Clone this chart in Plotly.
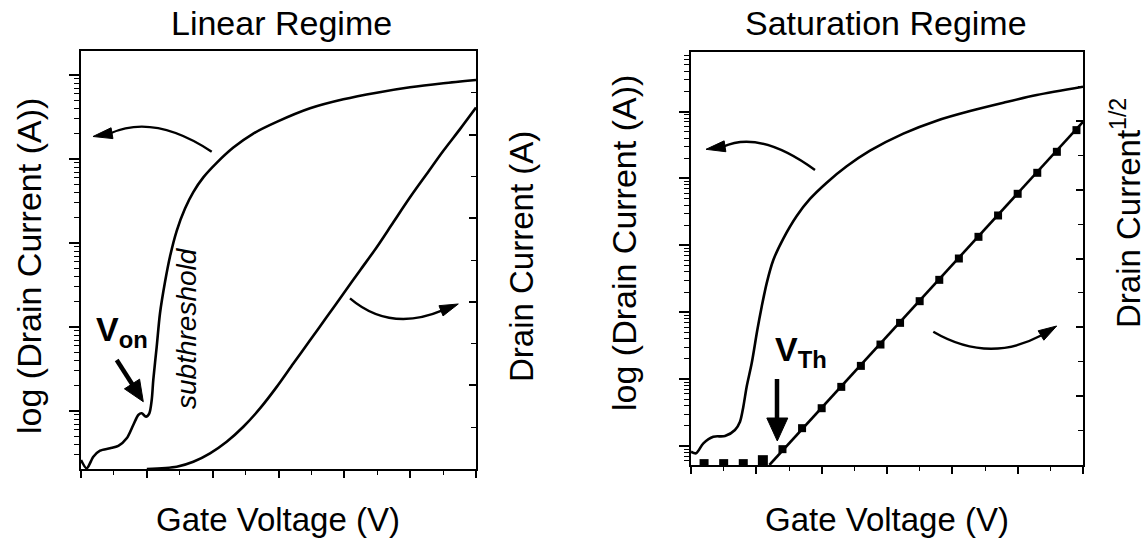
import numpy as np
import plotly.graph_objects as go

W, H = 1147, 543

# ---------------- data ----------------
# Linear regime, log10(drain current) vs gate voltage (left axis)
lin_vg_log = [0.0, 0.087, 0.187, 0.289, 0.441, 0.567, 0.694, 0.794, 0.870, 0.922,
              0.987, 1.038, 1.074, 1.098, 1.150, 1.200, 1.276, 1.352, 1.454, 1.580,
              1.706, 1.858, 2.061, 2.314, 2.617, 2.973, 3.479, 3.985, 4.492, 4.998,
              5.504, 6.0]
lin_log_id = [-11.583, -11.682, -11.544, -11.472, -11.444, -11.416, -11.325, -11.166,
              -11.047, -11.027, -11.067, -11.027, -10.869, -10.630, -10.234, -9.836,
              -9.464, -9.160, -8.854, -8.589, -8.394, -8.219, -8.046, -7.864, -7.697,
              -7.558, -7.396, -7.289, -7.210, -7.146, -7.098, -7.059]

# Linear regime, drain current (right axis, arbitrary units)
lin_vg = [1.0, 1.454, 1.706, 1.960, 2.213, 2.466, 2.719, 2.973, 3.225, 3.479,
          3.732, 3.985, 4.238, 4.492, 4.744, 4.998, 5.251, 5.504, 5.757, 6.0]
lin_id = [0.0, 0.055, 0.174, 0.375, 0.652, 1.010, 1.449, 1.964, 2.523, 3.079,
          3.635, 4.193, 4.749, 5.306, 5.902, 6.499, 7.057, 7.613, 8.131, 8.647]

# Saturation regime, log10(drain current) (left axis)
sat_vg_log = [0.0, 0.077, 0.189, 0.342, 0.520, 0.673, 0.750, 0.801, 0.852, 0.929,
              1.015, 1.082, 1.158, 1.260, 1.413, 1.618, 1.821, 2.077, 2.383, 2.740,
              3.250, 3.761, 4.271, 4.782, 5.292, 6.0]
sat_log_id = [-12.085, -12.109, -11.960, -11.861, -11.851, -11.761, -11.637, -11.413,
              -11.114, -10.764, -10.266, -9.918, -9.568, -9.220, -8.899, -8.561,
              -8.307, -8.064, -7.819, -7.585, -7.330, -7.137, -6.993, -6.869, -6.753,
              -6.629]

# Saturation regime, sqrt(drain current) measured points (right axis)
sat_vg_sqrt = [0.2, 0.5, 0.8, 1.1, 1.4, 1.7, 2.0, 2.3, 2.6, 2.9,
               3.2, 3.5, 3.8, 4.1, 4.4, 4.7, 5.0, 5.3, 5.6, 5.9]
sat_sqrt_id = [0.04, 0.04, 0.04, 0.14, 0.46, 1.07, 1.65, 2.27, 2.88, 3.50,
               4.13, 4.76, 5.38, 6.00, 6.63, 7.25, 7.88, 8.49, 9.10, 9.73]

# Linear fit used to extract V_Th
fit_vg = [1.2, 6.0]
fit_sqrt_id = [0.0, 9.97]

# axis tick specs
vg_major = [0, 1, 2, 3, 4, 5, 6]
vg_minor = [0.5, 1.5, 2.5, 3.5, 4.5, 5.5]
lin_log_decades = [-11, -10, -9, -8, -7]
sat_log_decades = [-12, -11, -10, -9, -8, -7]

# ---------------- figure ----------------
FONT = "Liberation Sans, Arial, Helvetica, sans-serif"
BLACK = "#000000"
LW = 2.6

fig = go.Figure()

fig.add_trace(go.Scatter(x=lin_vg_log, y=lin_log_id, mode="lines", xaxis="x", yaxis="y",
                         line=dict(color=BLACK, width=LW, shape="spline", smoothing=0.8),
                         showlegend=False, hoverinfo="skip"))
fig.add_trace(go.Scatter(x=lin_vg, y=lin_id, mode="lines", xaxis="x", yaxis="y2",
                         line=dict(color=BLACK, width=LW, shape="spline", smoothing=0.8),
                         showlegend=False, hoverinfo="skip"))
fig.add_trace(go.Scatter(x=sat_vg_log, y=sat_log_id, mode="lines", xaxis="x3", yaxis="y3",
                         line=dict(color=BLACK, width=LW, shape="spline", smoothing=0.8),
                         showlegend=False, hoverinfo="skip"))
fig.add_trace(go.Scatter(x=fit_vg, y=fit_sqrt_id, mode="lines", xaxis="x3", yaxis="y4",
                         line=dict(color=BLACK, width=LW),
                         showlegend=False, hoverinfo="skip"))
marker_sizes = [9, 9, 9, 10] + [8] * (len(sat_vg_sqrt) - 4)
fig.add_trace(go.Scatter(x=sat_vg_sqrt, y=sat_sqrt_id, mode="markers", xaxis="x3", yaxis="y4",
                         marker=dict(symbol="square", size=marker_sizes, color=BLACK,
                                     opacity=1, line=dict(width=0)),
                         showlegend=False, hoverinfo="skip"))


def minor_log(decades, lo, hi):
    vals = []
    for n in range(min(decades) - 2, max(decades) + 2):
        for k in range(2, 10):
            v = n + np.log10(k)
            if lo <= v <= hi:
                vals.append(float(v))
    return vals


def px_x(px):
    return px / W


def px_y(py):
    return 1 - py / H


common_x = dict(range=[0, 6], showline=True, linewidth=2, linecolor=BLACK, mirror=True,
                ticks="outside", tickmode="array", tickvals=vg_major, ticklen=7, tickwidth=1.6,
                tickcolor=BLACK, showticklabels=False, showgrid=False, zeroline=False,
                minor=dict(ticks="outside", ticklen=4, tickwidth=1.4, tickcolor=BLACK,
                           tickmode="array", tickvals=vg_minor, showgrid=False),
                fixedrange=True)

L_LO, L_HI = -11.69, -6.714
S_LO, S_HI = -12.284, -6.11

layout = dict(
    width=W, height=H, margin=dict(l=0, r=0, t=0, b=0),
    paper_bgcolor="white", plot_bgcolor="white",
    font=dict(family=FONT, color=BLACK),
    xaxis=dict(domain=[px_x(81), px_x(476)], anchor="y", **common_x),
    yaxis=dict(domain=[px_y(469), px_y(51)], anchor="x", range=[L_LO, L_HI],
               showline=True, linewidth=2, linecolor=BLACK, ticks="outside",
               tickmode="array", tickvals=lin_log_decades, ticklen=10, tickwidth=1.6,
               tickcolor=BLACK, showticklabels=False, showgrid=False, zeroline=False,
               minor=dict(ticks="outside", ticklen=5, tickwidth=1.3, tickcolor=BLACK,
                          tickmode="array", tickvals=minor_log(lin_log_decades, L_LO, L_HI),
                          showgrid=False)),
    yaxis2=dict(overlaying="y", side="right", anchor="x", range=[0, 10],
                showline=True, linewidth=2, linecolor=BLACK, ticks="inside",
                dtick=2, tick0=0, ticklen=7, tickwidth=1.6, tickcolor=BLACK,
                showticklabels=False, showgrid=False, zeroline=False,
                minor=dict(ticks="inside", ticklen=5, tickwidth=1.4, tickcolor=BLACK,
                           dtick=1, tick0=0, showgrid=False)),
    xaxis3=dict(domain=[px_x(691), px_x(1083)], anchor="y3", **common_x),
    yaxis3=dict(domain=[px_y(465), px_y(52)], anchor="x3", range=[S_LO, S_HI],
                showline=True, linewidth=2, linecolor=BLACK, ticks="outside",
                tickmode="array", tickvals=sat_log_decades, ticklen=10, tickwidth=1.6,
                tickcolor=BLACK, showticklabels=False, showgrid=False, zeroline=False,
                minor=dict(ticks="outside", ticklen=5, tickwidth=1.3, tickcolor=BLACK,
                           tickmode="array", tickvals=minor_log(sat_log_decades, S_LO, S_HI),
                           showgrid=False)),
    yaxis4=dict(overlaying="y3", side="right", anchor="x3", range=[0, 12],
                showline=True, linewidth=2, linecolor=BLACK, ticks="inside",
                dtick=2, tick0=0, ticklen=7, tickwidth=1.6, tickcolor=BLACK,
                showticklabels=False, showgrid=False, zeroline=False,
                minor=dict(ticks="inside", ticklen=5, tickwidth=1.4, tickcolor=BLACK,
                           dtick=1, tick0=0, showgrid=False)),
)
fig.update_layout(**layout)

# ---------------- text ----------------
TS = 33
anns = []


def txt(text, px, py, size=TS, angle=0, xanchor="center", yanchor="middle"):
    anns.append(dict(text=text, x=px_x(px), y=px_y(py), xref="paper", yref="paper",
                     showarrow=False, textangle=angle, xanchor=xanchor, yanchor=yanchor,
                     font=dict(size=size, family=FONT, color=BLACK)))


txt("Linear Regime", 281, 23, size=34)
txt("Saturation Regime", 886, 23, size=34)
txt("Gate Voltage (V)", 278, 519)
txt("Gate Voltage (V)", 887, 519)
txt("log (Drain Current (A))", 29, 266, size=34, angle=-90)
txt("Drain Current (A)", 521, 257, angle=-90)
txt("log (Drain Current (A))", 624, 243, size=34, angle=-90)
txt("Drain Current<sup>1/2</sup>", 1126, 213, angle=-90)
txt("<i>subthreshold</i>", 186, 328, size=28, angle=-90)
txt("<b>V<sub>on</sub></b>", 94, 331, size=34, xanchor="left")
txt("<b>V<sub>Th</sub></b>", 773, 351, size=34, xanchor="left")

fig.update_layout(annotations=anns)

# ---------------- arrows (decorations) ----------------
shapes = []


def P(px, py):
    return f"{px_x(px):.5f},{px_y(py):.5f}"


def curve(s, c, e, width=2.4):
    shapes.append(dict(type="path", xref="paper", yref="paper",
                       path=f"M {P(*s)} Q {P(*c)} {P(*e)}",
                       line=dict(color=BLACK, width=width)))


def head(tip, base, w):
    dx, dy = tip[0] - base[0], tip[1] - base[1]
    n = np.hypot(dx, dy)
    nx, ny = -dy / n, dx / n
    b1 = (base[0] + nx * w / 2, base[1] + ny * w / 2)
    b2 = (base[0] - nx * w / 2, base[1] - ny * w / 2)
    shapes.append(dict(type="path", xref="paper", yref="paper",
                       path=f"M {P(*tip)} L {P(*b1)} L {P(*b2)} Z",
                       fillcolor=BLACK, line=dict(color=BLACK, width=1)))


def straight(s, e, width):
    shapes.append(dict(type="line", xref="paper", yref="paper",
                       x0=px_x(s[0]), y0=px_y(s[1]), x1=px_x(e[0]), y1=px_y(e[1]),
                       line=dict(color=BLACK, width=width)))


# left panel curved arrows
curve((211.7, 151.7), (153.9, 113.5), (110.0, 133.5))
head((93.0, 136.5), (112.0, 133.2), 11)
curve((350.0, 298.3), (390.2, 332.5), (443.0, 310.2))
head((458.3, 304.0), (441.0, 310.8), 11)
# right panel curved arrows
curve((815.0, 170.0), (760.0, 129.8), (723.0, 146.7))
head((706.0, 149.3), (725.0, 146.3), 11)
curve((933.3, 331.7), (988.2, 363.7), (1041.0, 335.5))
head((1056.7, 326.0), (1041.0, 335.5), 11)
# V_on arrow
straight((116.7, 360.0), (134.0, 387.0), 4.5)
head((143.3, 401.7), (132.0, 384.0), 18)
# V_Th arrow
straight((777.0, 379.0), (777.0, 420.0), 4.5)
head((777.3, 441.0), (777.3, 418.0), 21)

fig.update_layout(shapes=shapes)

fig.write_html("out.html")
